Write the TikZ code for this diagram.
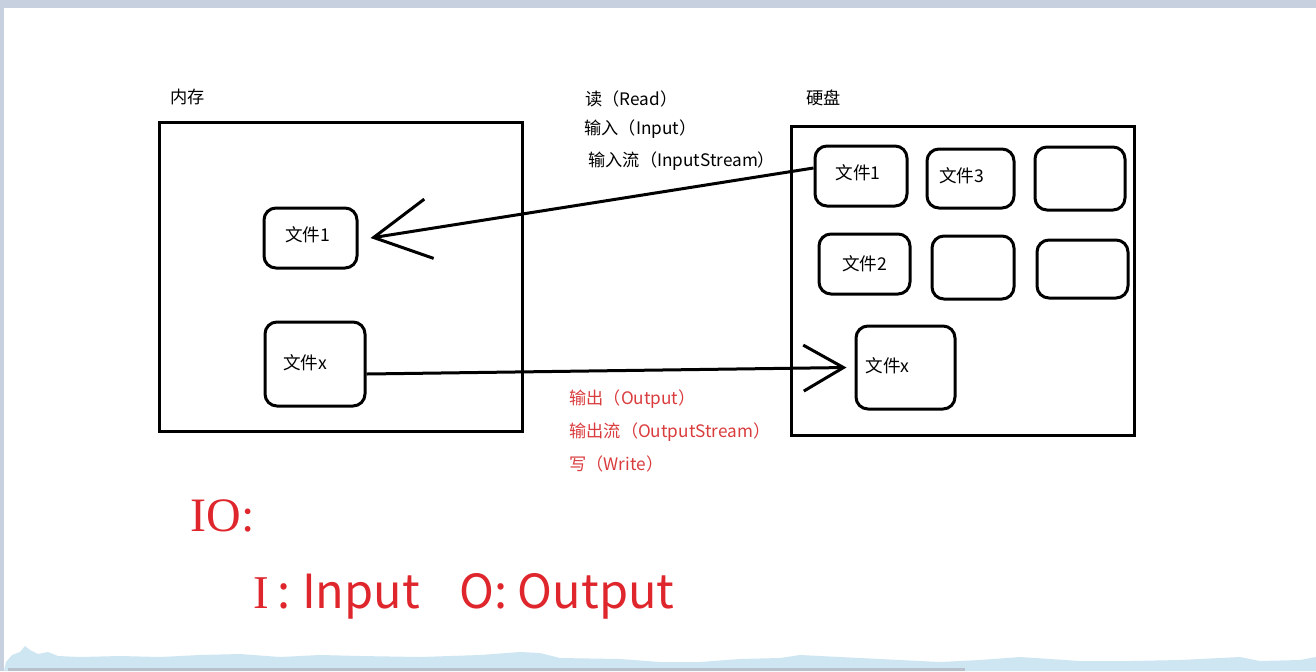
\documentclass[tikz,border=0pt]{standalone}
\usepackage{fontspec}
\setmainfont{Noto Sans CJK SC}
\newfontfamily\serifio{Liberation Serif}
\usetikzlibrary{arrows.meta,calc}
\definecolor{redtxt}{RGB}{222,38,44}
\definecolor{redsmall}{RGB}{218,60,62}
\definecolor{topbar}{RGB}{198,208,222}
\definecolor{wave}{RGB}{206,230,241}
\newcommand\ftxt[3]{\raisebox{#2}{\makebox[0pt]{\kern#1\relax #3}}}
\begin{document}
\begin{tikzpicture}[x=0.5pt,y=-0.5pt,
  bigbox/.style={draw, line width=1.5pt, inner sep=0pt},
  filebox/.style={draw, line width=1.5pt, rounded corners=6pt, inner sep=0pt,
    font=\fontsize{8.8}{10}\selectfont},
  lbl/.style={anchor=west, inner sep=0pt, font=\fontsize{8.6}{10}\selectfont},
  redlbl/.style={lbl, text=redsmall},
  conn/.style={line width=1.5pt}]
% background / frame
\fill[white] (0,0) rectangle (1316,671);
\useasboundingbox (0,0) rectangle (1316,671);
\fill[topbar] (0,0) rectangle (1316,8);
\fill[topbar] (0,0) rectangle (4,671);
\fill[wave] (4,671) -- (6,662) -- (12,655) -- (20,652) -- (25,646) -- (30,650) -- (38,654) -- (48,652) -- (58,656) -- (80,657)
  -- (120,656) -- (160,657) -- (200,655) -- (240,654) -- (280,657) -- (320,655) -- (360,656) -- (420,657) -- (480,655)
  -- (520,652) -- (540,653) -- (560,658) -- (620,659) -- (660,662) -- (700,662) -- (740,659) -- (780,658)
  -- (800,655) -- (840,657) -- (900,660) -- (940,662) -- (980,660) -- (1020,657) -- (1080,661) -- (1130,661)
  -- (1180,660) -- (1240,657) -- (1260,661) -- (1300,660) -- (1316,657) -- (1316,671) -- cycle;
\fill[topbar!80!gray] (8,668) rectangle (965,671);
% containers
\node[bigbox, minimum width=181.5pt, minimum height=154.5pt] (mem) at (340.5,276.5) {};
\node[bigbox, minimum width=171.5pt, minimum height=154.5pt] (disk) at (962.5,280.5) {};
\node[lbl] (memlbl) at (170,97) {内存};
\node[lbl] (disklbl) at (806,98) {硬盘};
% memory files
\node[filebox, minimum width=46.5pt, minimum height=30pt] (m1) at (310.5,238) {\ftxt{-3pt}{3.5pt}{文件1}};
\node[filebox, minimum width=50pt, minimum height=42pt] (mx) at (315,364) {\ftxt{-10pt}{2pt}{文件x}};
% disk files
\node[filebox, minimum width=46pt, minimum height=30pt] (d1) at (861,176) {\ftxt{-3pt}{4pt}{文件1}};
\node[filebox, minimum width=43.5pt, minimum height=29.5pt] (d3) at (970.5,178.5) {\ftxt{-9pt}{3pt}{文件3}};
\node[filebox, minimum width=45pt, minimum height=31.5pt] (de1) at (1080,178.5) {};
\node[filebox, minimum width=45.5pt, minimum height=30pt] (d2) at (864.5,264) {\ftxt{0pt}{0.5pt}{文件2}};
\node[filebox, minimum width=41pt, minimum height=31.5pt] (de2) at (973,267.5) {};
\node[filebox, minimum width=45.5pt, minimum height=29pt] (de3) at (1082.5,269) {};
\node[filebox, minimum width=49.5pt, minimum height=41.5pt] (dx) at (905.5,367.5) {\ftxt{-18pt}{2pt}{文件x}};
% connectors
\draw[conn, -{Straight Barb[length=28pt,width=30pt]}] ($(d1.west)+(0,-8)$) -- ($(m1.east)+(12,0)$);
\draw[conn, -{Straight Barb[length=20pt,width=23pt]}] ($(mx.east)+(0,10)$) -- ($(dx.west)+(-8,0)$);
% read labels
\node[lbl] (r1) at (585,99) {读（Read）};
\node[lbl] (r2) at (584,129) {输入（Input）};
\node[lbl] (r3) at (588,161) {输入流（InputStream）};
% write labels
\node[redlbl] (w1) at (569,399) {输出（Output）};
\node[redlbl] (w2) at (569,432) {输出流（OutputStream）};
\node[redlbl] (w3) at (569,464) {写（Write）};
% IO
\node[anchor=west, inner sep=0pt, text=redtxt, font=\serifio\fontsize{24}{28}\selectfont] (io) at (190,516) {IO:};
\node[anchor=west, inner sep=0pt, text=redtxt, font=\fontsize{23.5}{28}\selectfont] (iodef) at (253,596) {{\serifio I}\kern4pt:\kern6pt Input\hspace{20pt}O:\kern5pt Output};
\end{tikzpicture}
\end{document}
